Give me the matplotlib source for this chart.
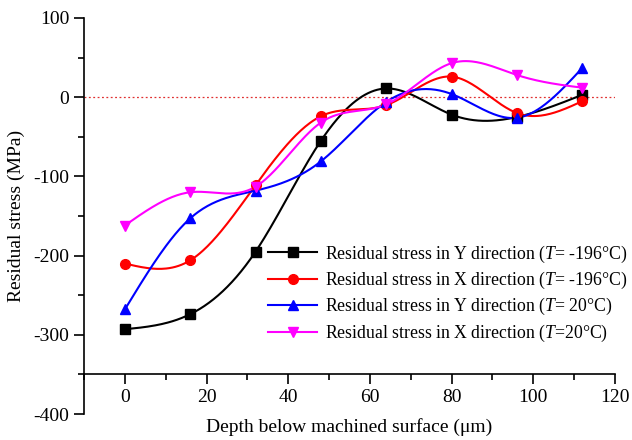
import numpy as np
import matplotlib.pyplot as plt
from matplotlib.ticker import MultipleLocator

plt.rcParams['font.family'] = ['Liberation Serif', 'DejaVu Serif']
plt.rcParams['mathtext.fontset'] = 'custom'
plt.rcParams['mathtext.rm'] = 'Liberation Serif'
plt.rcParams['mathtext.it'] = 'Liberation Serif:italic'
plt.rcParams['axes.unicode_minus'] = False

depth = [0, 16, 32, 48, 64, 80, 96, 112]
y_cryo = [-293, -274, -195, -55, 11, -22, -25, 3]
x_cryo = [-210, -206, -111, -24, -10, 26, -20, -5]
y_room = [-268, -153, -118, -81, -6, 4, -26, 37]
x_room = [-162, -120, -113, -32, -9, 43, 28, 12]

labels = ['Residual stress in Y direction ($\\mathit{T}$= -196°C)',
          'Residual stress in X direction ($\\mathit{T}$= -196°C)',
          'Residual stress in Y direction ($\\mathit{T}$= 20°C)',
          'Residual stress in X direction ($\\mathit{T}$=20°C)']
colors = ['black', 'red', 'blue', 'magenta']
markers = ['s', 'o', '^', 'v']


def spline(x, y, n=300):
    # natural cubic spline, only used to draw the smooth connecting line
    x = np.asarray(x, float)
    y = np.asarray(y, float)
    k = len(x)
    h = np.diff(x)
    A = np.zeros((k, k))
    b = np.zeros(k)
    A[0, 0] = 1
    A[-1, -1] = 1
    for i in range(1, k - 1):
        A[i, i - 1] = h[i - 1]
        A[i, i] = 2 * (h[i - 1] + h[i])
        A[i, i + 1] = h[i]
        b[i] = 6 * ((y[i + 1] - y[i]) / h[i] - (y[i] - y[i - 1]) / h[i - 1])
    m = np.linalg.solve(A, b)
    xs = np.linspace(x[0], x[-1], n)
    idx = np.clip(np.searchsorted(x, xs) - 1, 0, k - 2)
    x0, x1 = x[idx], x[idx + 1]
    hh = x1 - x0
    t0 = x1 - xs
    t1 = xs - x0
    ys = (m[idx] * t0**3 / (6 * hh) + m[idx + 1] * t1**3 / (6 * hh)
          + (y[idx] / hh - m[idx] * hh / 6) * t0
          + (y[idx + 1] / hh - m[idx + 1] * hh / 6) * t1)
    return xs, ys


fig = plt.figure(figsize=(6.32, 4.4), dpi=100)
ax = fig.add_axes([84 / 632, 26 / 440, 531 / 632, 396 / 440])

ax.axhline(0, color='#e03030', linestyle=(0, (1.5, 2)), linewidth=0.9, zorder=1)

for series, c, mk, lab in zip([y_cryo, x_cryo, y_room, x_room], colors, markers, labels):
    xs, ys = spline(depth, series)
    ax.plot(xs, ys, color=c, linewidth=1.5, zorder=2)
    ax.plot(depth, series, linestyle='none', marker=mk, color=c, markersize=7, zorder=3)
    ax.plot([], [], color=c, marker=mk, markersize=7, linewidth=1.5, label=lab)

ax.set_xlim(-10, 120)
ax.set_ylim(-400, 100)
ax.spines['top'].set_visible(False)
ax.spines['right'].set_visible(False)
ax.spines['bottom'].set_position(('data', -350))
ax.spines['left'].set_linewidth(1.2)
ax.spines['bottom'].set_linewidth(1.2)

ax.set_xticks([0, 20, 40, 60, 80, 100, 120])
ax.xaxis.set_minor_locator(MultipleLocator(10))
ax.yaxis.set_major_locator(MultipleLocator(100))
ax.yaxis.set_minor_locator(MultipleLocator(50))
ax.tick_params(which='major', direction='out', length=7, width=1.2, labelsize=14)
ax.tick_params(which='minor', direction='out', length=4, width=1.2)

ax.set_xlabel('Depth below machined surface (μm)', fontsize=14, labelpad=9)
ax.set_ylabel('Residual stress (MPa)', fontsize=14, labelpad=6)

ax.legend(loc='lower right', bbox_to_anchor=(634 / 632, 89 / 440),
          bbox_transform=fig.transFigure, frameon=False, fontsize=12.8,
          handlelength=2.8, handletextpad=0.4, labelspacing=0.3, borderaxespad=0.0)

fig.savefig('out.png', dpi=100)
